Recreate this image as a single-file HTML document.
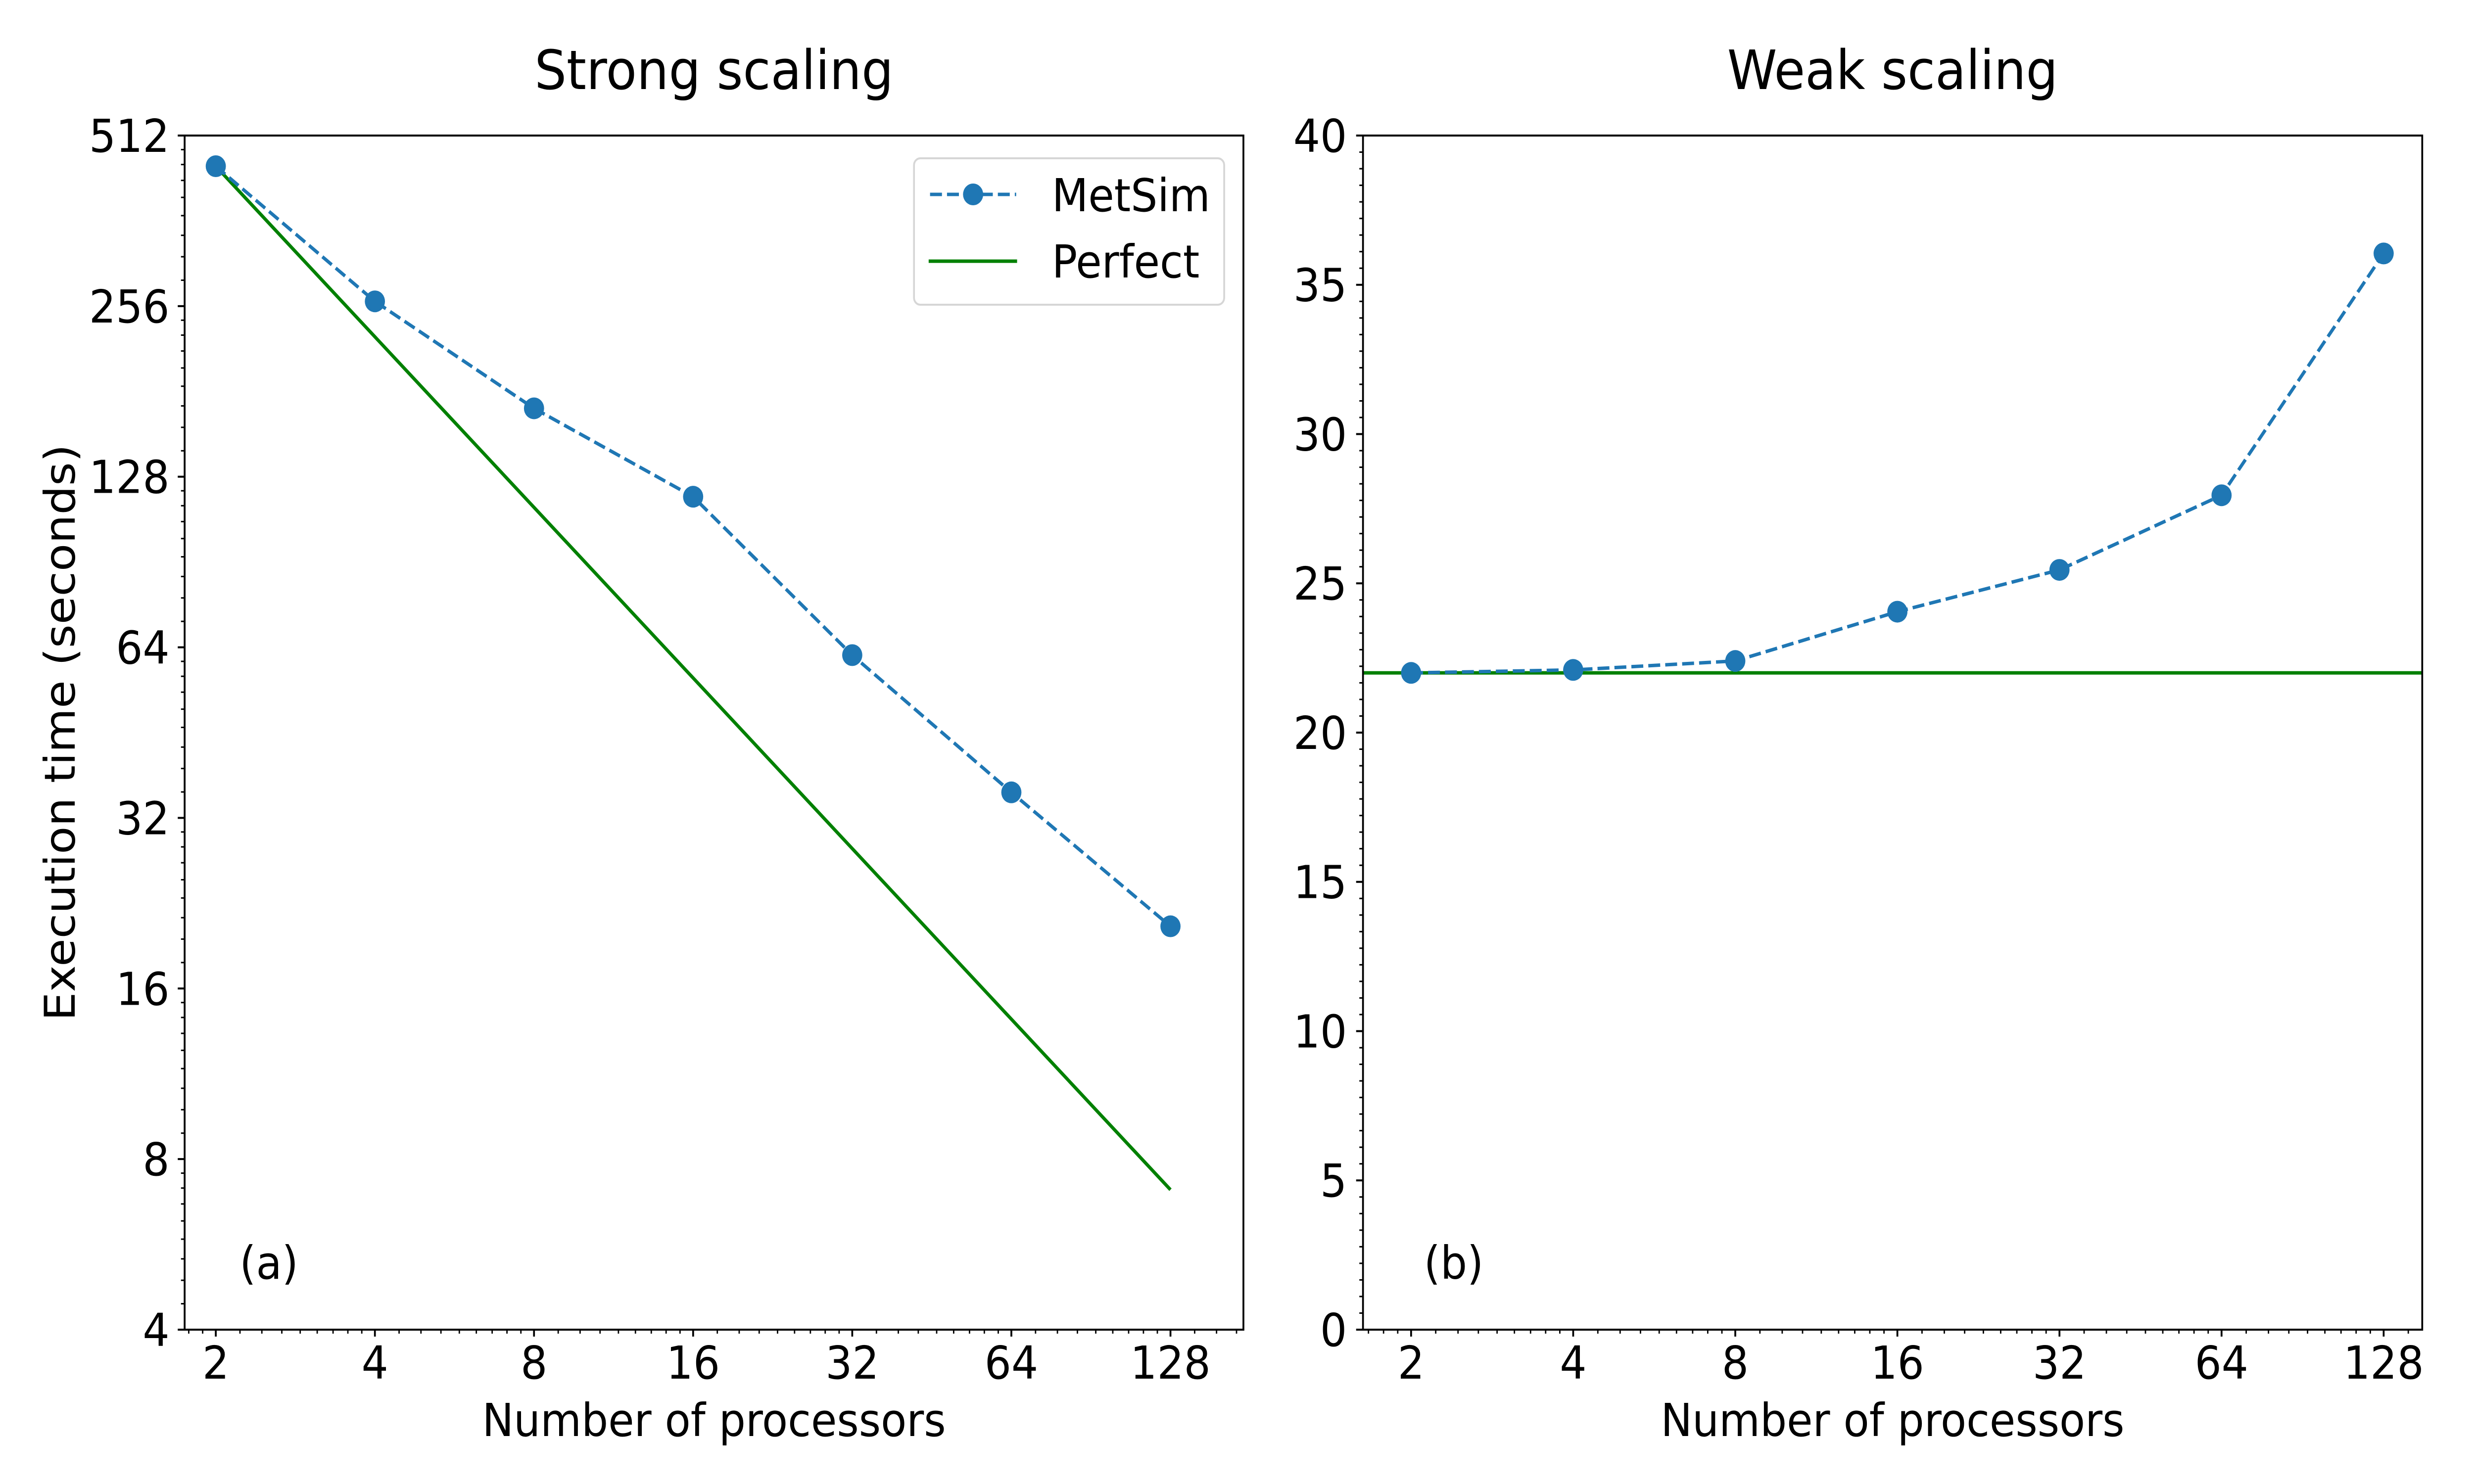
<!DOCTYPE html>
<html><head><meta charset="utf-8">
<style>
html,body{margin:0;padding:0;background:#fff;width:100%;height:100%;overflow:hidden;}
svg{display:block;position:absolute;left:0;top:0;width:100vw;height:100vh;}
text{font-family:"DejaVu Sans","Liberation Sans",sans-serif;fill:#000;}
</style></head>
<body>
<svg id="fig" viewBox="0 0 5400 3000" preserveAspectRatio="none" xmlns="http://www.w3.org/2000/svg"></svg>
<script>
const processors = [2, 4, 8, 16, 32, 64, 128];
const strongTimes = [452, 261, 169, 118, 62, 35.5, 20.6];
const weakTimes = [22.0, 22.1, 22.4, 24.05, 25.45, 27.95, 36.05];
const perfectBase = 452;
const weakPerfect = 22.0;
const xTickLabels = ['2', '4', '8', '16', '32', '64', '128'];
const strongYTicks = [4, 8, 16, 32, 64, 128, 256, 512];
const weakYTicks = [0, 5, 10, 15, 20, 25, 30, 35, 40];

const NS = 'http://www.w3.org/2000/svg';
const svg = document.getElementById('fig');
function mk(tag, attrs, parent, txt) {
  const e = document.createElementNS(NS, tag);
  for (const k in attrs) e.setAttribute(k, attrs[k]);
  if (txt !== undefined) e.textContent = txt;
  (parent || svg).appendChild(e);
  return e;
}
const BLUE = '#1f77b4', GREEN = '#008000';
const TOP = 274, BOT = 2688;

const A = {left: 403, right: 2714, x2: 471, xStep: 347.3};
const B = {left: 2975, right: 5287, x2: 3080, xStep: 353.8};
function xs(P, p) { return P.x2 + P.xStep * (Math.log2(p) - 1); }
function ysA(v) { return BOT - (Math.log2(v) - 2) * (BOT - TOP) / 7; }
function ysB(v) { return BOT - v * (BOT - TOP) / 40; }

function drawXAxis(P, g) {
  for (let oct = 0; oct <= 8; oct++) {
    const base = Math.pow(2, oct);
    for (let k = 1; k <= 8; k++) {
      const v = base * (1 + k / 9);
      const x = xs(P, v);
      if (x > P.left + 2 && x < P.right - 2) {
        const t = mk('line', {x1: x, x2: x, y1: BOT, y2: BOT + 8, stroke: '#000', 'stroke-width': 3}, g);
        
        
      }
    }
  }
  processors.forEach((p, i) => {
    const x = xs(P, p);
    const t = mk('line', {x1: x, x2: x, y1: BOT, y2: BOT + 14, stroke: '#000', 'stroke-width': 4}, g);
    
    
    const l = mk('text', {x: x, y: 2787, 'font-size': 92, 'text-anchor': 'middle'}, g, xTickLabels[i]);
    
    
  });
  const xl = mk('text', {x: (P.left + P.right) / 2, y: 2903, 'font-size': 92, 'text-anchor': 'middle'}, g, 'Number of processors');
  
  
}

function frame(P, g) {
  const r = mk('rect', {x: P.left, y: TOP, width: P.right - P.left, height: BOT - TOP, fill: 'none', stroke: '#000', 'stroke-width': 4}, g);
  
  
}

function series(P, vals, ysf, g, name) {
  const pts = processors.map((p, i) => xs(P, p) + ',' + ysf(vals[i])).join(' ');
  const pl = mk('polyline', {points: pts, fill: 'none', stroke: BLUE, 'stroke-width': 7, 'stroke-dasharray': '26,11'}, g);
  
  
  processors.forEach((p, i) => {
    const c = mk('circle', {cx: xs(P, p), cy: ysf(vals[i]), r: 22, fill: BLUE}, g);
    
    
  });
}

const gA = mk('g', {});


const tA = mk('text', {x: (A.left + A.right) / 2, y: 180, 'font-size': 110, 'text-anchor': 'middle'}, gA, 'Strong scaling');


for (let oct = 2; oct < 9; oct++) {
  const base = Math.pow(2, oct);
  for (let k = 1; k <= 8; k++) {
    const y = ysA(base * (1 + k / 9));
    const t = mk('line', {x1: A.left - 8, x2: A.left, y1: y, y2: y, stroke: '#000', 'stroke-width': 3}, gA);
    
    
  }
}
strongYTicks.forEach(v => {
  const y = ysA(v);
  const t = mk('line', {x1: A.left - 15, x2: A.left, y1: y, y2: y, stroke: '#000', 'stroke-width': 4}, gA);
  
  
  const l = mk('text', {x: 370, y: y + 33, 'font-size': 92, 'text-anchor': 'end'}, gA, String(v));
  
  
});
const yl = mk('text', {x: 0, y: 0, 'font-size': 92, 'text-anchor': 'middle', transform: 'translate(163,1481) rotate(-90)'}, gA, 'Execution time (seconds)');


drawXAxis(A, gA);
const pA = mk('line', {x1: xs(A, processors[0]), y1: ysA(perfectBase), x2: xs(A, processors[6]), y2: ysA(perfectBase * processors[0] / processors[6]), stroke: GREEN, 'stroke-width': 7}, gA);


series(A, strongTimes, ysA, gA, 'metsim-strong');
frame(A, gA);
const la = mk('text', {x: 523, y: 2585, 'font-size': 92}, gA, '(a)');


const lg = mk('g', {});


mk('rect', {x: 1995, y: 320, width: 677, height: 296, rx: 14, fill: '#fff', stroke: '#d6d6d6', 'stroke-width': 4}, lg);
const le1 = mk('g', {}, lg);


mk('line', {x1: 2030, x2: 2218, y1: 393, y2: 393, stroke: BLUE, 'stroke-width': 7, 'stroke-dasharray': '26,11'}, le1);
mk('circle', {cx: 2124, cy: 393, r: 22, fill: BLUE}, le1);
mk('text', {x: 2296, y: 427, 'font-size': 92}, le1, 'MetSim');
const le2 = mk('g', {}, lg);


mk('line', {x1: 2027, x2: 2220, y1: 528, y2: 528, stroke: GREEN, 'stroke-width': 7}, le2);
mk('text', {x: 2296, y: 561, 'font-size': 92}, le2, 'Perfect');

const gB = mk('g', {});


const tB = mk('text', {x: (B.left + B.right) / 2, y: 180, 'font-size': 110, 'text-anchor': 'middle'}, gB, 'Weak scaling');


for (let j = 0; j < 8; j++) {
  for (let k = 1; k <= 8; k++) {
    const y = ysB(5 * j + 5 * k / 9);
    const t = mk('line', {x1: B.left - 8, x2: B.left, y1: y, y2: y, stroke: '#000', 'stroke-width': 3}, gB);
    
    
  }
}
weakYTicks.forEach(v => {
  const y = ysB(v);
  const t = mk('line', {x1: B.left - 15, x2: B.left, y1: y, y2: y, stroke: '#000', 'stroke-width': 4}, gB);
  
  
  const l = mk('text', {x: B.left - 35, y: y + 33, 'font-size': 92, 'text-anchor': 'end'}, gB, String(v));
  
  
});
drawXAxis(B, gB);
const pB = mk('line', {x1: B.left, y1: ysB(weakPerfect), x2: B.right, y2: ysB(weakPerfect), stroke: GREEN, 'stroke-width': 7}, gB);


series(B, weakTimes, ysB, gB, 'metsim-weak');
frame(B, gB);
const lb = mk('text', {x: 3108, y: 2585, 'font-size': 92}, gB, '(b)');


</script>
</body></html>
